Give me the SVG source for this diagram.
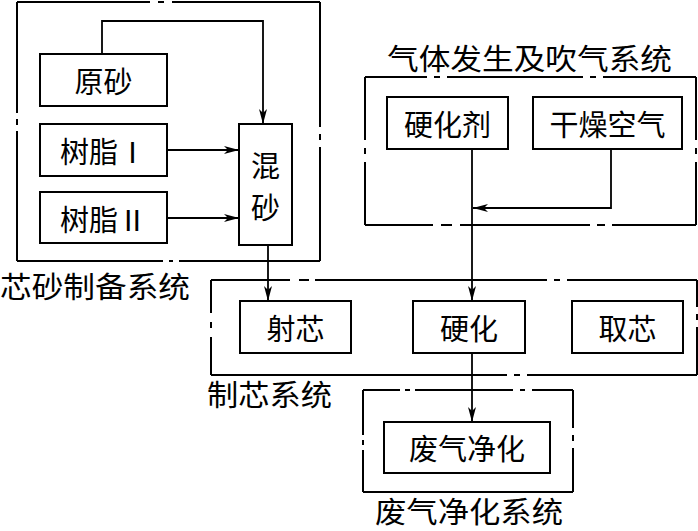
<svg xmlns="http://www.w3.org/2000/svg" width="698" height="531" viewBox="0 0 698 531">
<style>
.box{fill:#fff;stroke:#000;stroke-width:2}
.sys{fill:none;stroke:#000;stroke-width:2}
.ln{fill:none;stroke:#000;stroke-width:1.8}
.t{font-family:"Noto Sans CJK SC","Noto Sans CJK JP",sans-serif;font-size:29px;fill:#000;text-anchor:middle;dominant-baseline:central}
.lb{font-family:"Noto Sans CJK SC","Noto Sans CJK JP",sans-serif;font-size:29px;fill:#000;dominant-baseline:central}
</style>
<defs>
<marker id="ah" markerUnits="userSpaceOnUse" markerWidth="16" markerHeight="10" refX="15" refY="4" orient="auto" viewBox="0 0 16 8">
<path d="M0,0 L15,4 L0,8 L4,4 Z" fill="#000"/>
</marker>
</defs>
<rect width="698" height="531" fill="#fff"/>

<g id="sys-sand">
<path class="sys" d="M17,2 H150 M158,2 H164 M172,2 H320 M17,2 V113 M17,119 V125 M17,131 V261 M320,2 V127 M320,134 V140 M320,147 V261 M17,261 H163 M169,261 H173 M179,261 H320"/>
<text class="lb" x="0" y="285" textLength="190" lengthAdjust="spacingAndGlyphs">芯砂制备系统</text>
</g>
<g id="sys-gas">
<path class="sys" d="M365,77 H427 M434,77 H440 M447,77 H583 M590,77 H596 M603,77 H696 M365,77 V140 M365,148 V154 M365,162 V225 M696,77 V140 M696,148 V154 M696,162 V225 M365,225 H433 M441,225 H452 M460,225 H590 M597,225 H605 M612,225 H696"/>
<text class="lb" x="387" y="57" textLength="285" lengthAdjust="spacingAndGlyphs">气体发生及吹气系统</text>
</g>
<g id="sys-core">
<path class="sys" d="M211,280 H290 M299,280 H309 M315,280 H547 M554,280 H560 M567,280 H697 M211,280 V313 M211,322 V328 M211,337 V375 M697,280 V307 M697,314 V320 M697,327 V375 M211,375 H507 M514,375 H520 M527,375 H697"/>
<text class="lb" x="207" y="393" textLength="125" lengthAdjust="spacingAndGlyphs">制芯系统</text>
</g>
<g id="sys-waste">
<path class="sys" d="M363,390 H400 M405,390 H410 M415,390 H513 M520,390 H525 M532,390 H573 M363,390 V435 M363,440 V445 M363,450 V492 M573,390 V428 M573,435 V441 M573,448 V492 M363,492 H573"/>
<text class="lb" x="375" y="510" font-size="26" textLength="188" lengthAdjust="spacingAndGlyphs">废气净化系统</text>
</g>

<g id="n-yuansha"><rect class="box" x="40" y="54" width="127" height="52"/><text class="t" x="103.5" y="80">原砂</text></g>
<g id="n-shuzhi1"><rect class="box" x="40" y="124" width="127" height="52"/><text class="t" x="103.5" y="150">树脂Ⅰ</text></g>
<g id="n-shuzhi2"><rect class="box" x="40" y="192" width="127" height="51"/><text class="t" x="103.5" y="218">树脂Ⅱ</text></g>
<g id="n-hunsha"><rect class="box" x="239" y="124" width="53" height="121"/><text class="t" x="265.5" y="164">混</text><text class="t" x="265.5" y="206">砂</text></g>
<g id="n-yinghuaji"><rect class="box" x="387" y="97" width="121" height="52"/><text class="t" x="447.5" y="123">硬化剂</text></g>
<g id="n-ganzao"><rect class="box" x="533" y="97" width="149" height="52"/><text class="t" x="607.5" y="123">干燥空气</text></g>
<g id="n-shexin"><rect class="box" x="240" y="301" width="111" height="52"/><text class="t" x="295.5" y="327">射芯</text></g>
<g id="n-yinghua"><rect class="box" x="413" y="301" width="112" height="52"/><text class="t" x="469" y="327">硬化</text></g>
<g id="n-quxin"><rect class="box" x="572" y="301" width="111" height="52"/><text class="t" x="627.5" y="327">取芯</text></g>
<g id="n-feiqi"><rect class="box" x="384" y="422" width="166" height="51"/><text class="t" x="467" y="447">废气净化</text></g>

<g id="connectors">
<path class="ln" d="M102,54 V21 H263 V124" marker-end="url(#ah)"/>
<path class="ln" d="M167,150 H239" marker-end="url(#ah)"/>
<path class="ln" d="M167,218 H239" marker-end="url(#ah)"/>
<path class="ln" d="M268,245 V301" marker-end="url(#ah)"/>
<path class="ln" d="M472,149 V301" marker-end="url(#ah)"/>
<path class="ln" d="M611,149 V208 H473" marker-end="url(#ah)"/>
<path class="ln" d="M472,353 V422" marker-end="url(#ah)"/>
</g>
</svg>
